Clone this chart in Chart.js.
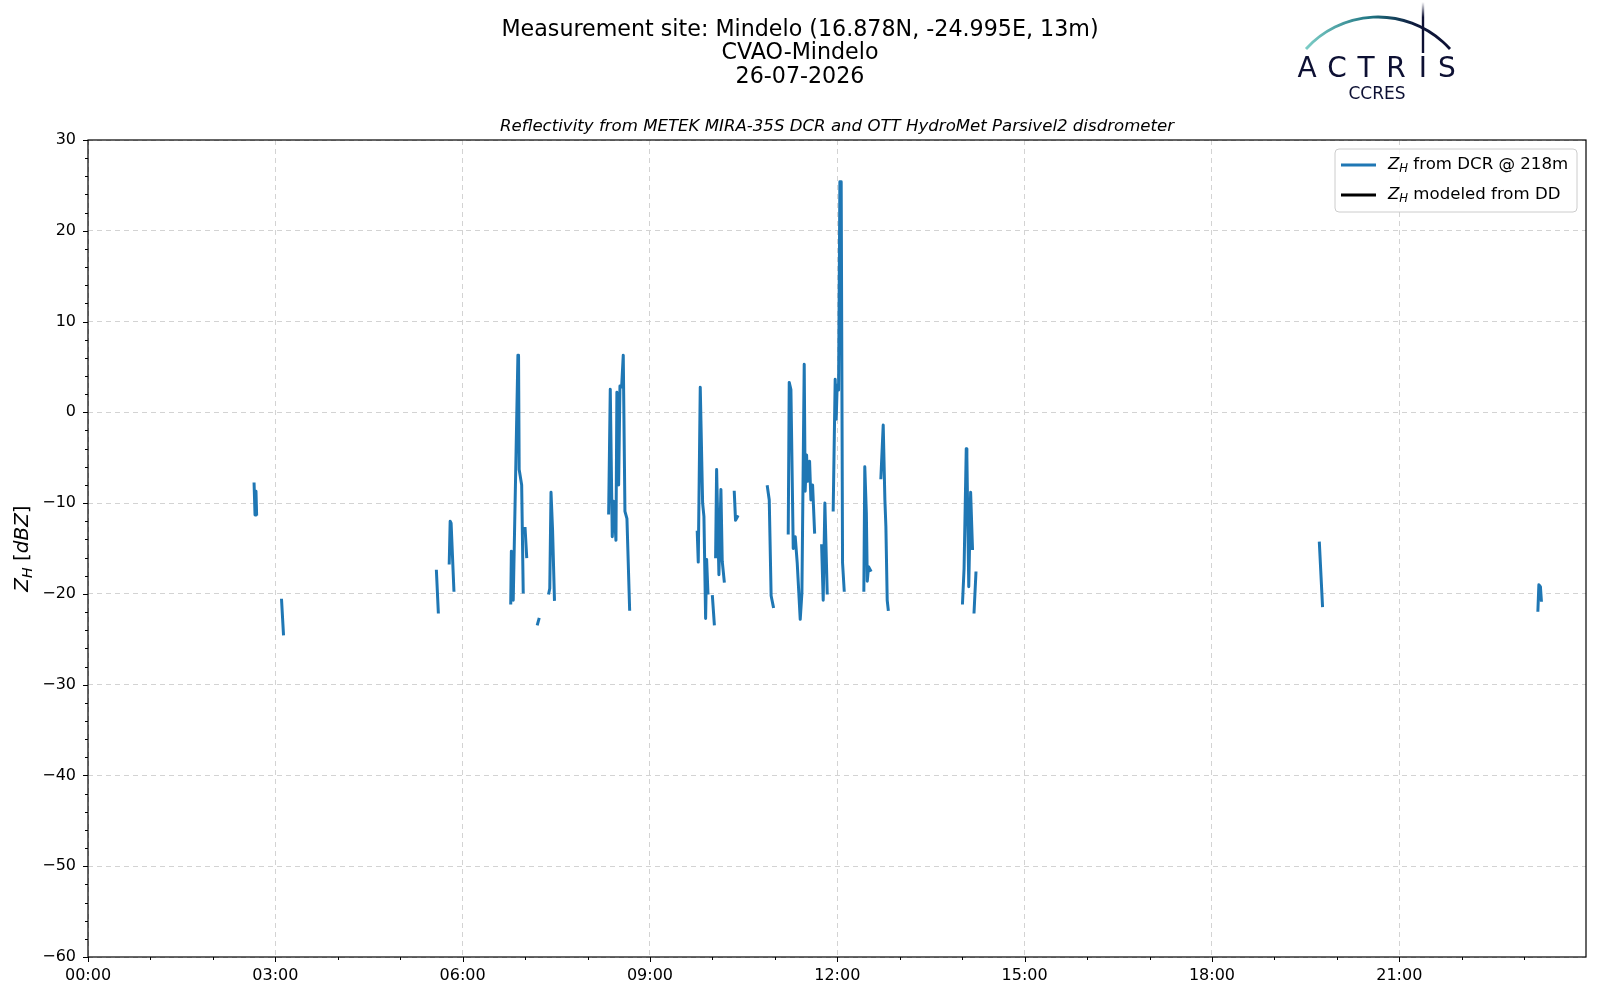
<!DOCTYPE html>
<html>
<head>
<meta charset="utf-8">
<script src="https://cdn.jsdelivr.net/npm/chart.js@4.4.1/dist/chart.umd.min.js"></script>
<style>
  html, body { margin: 0; padding: 0; background: #fff; }
  #wrap { position: relative; width: 1600px; height: 1000px; }
</style>
</head>
<body>
<div id="wrap"><canvas id="myChart"></canvas></div>
<script>
// time of day in hours, null in zh marks a gap in the radar record
const timeHours = [
  2.66, 2.675, 2.69, 2.70, 2.70,
  3.10, 3.13, 3.13,
  5.58, 5.61, 5.61,
  5.785, 5.80, 5.815, 5.86, 5.86,
  6.77, 6.78, 6.795, 6.81, 6.885, 6.895, 6.905, 6.945, 6.97, 6.97,
  7.00, 7.025, 7.025,
  7.20, 7.22, 7.22,
  7.38, 7.395, 7.415, 7.44, 7.47, 7.47,
  8.338, 8.364, 8.396, 8.418, 8.455, 8.47, 8.498, 8.519, 8.546, 8.572, 8.599, 8.631, 8.674, 8.674,
  9.757, 9.773, 9.805, 9.843, 9.864, 9.891, 9.907, 9.928, 9.928,
  10.00, 10.03, 10.03,
  10.051, 10.067, 10.104, 10.136, 10.157, 10.189, 10.189,
  10.35, 10.37, 10.40, 10.40,
  10.88, 10.91, 10.94, 10.975, 10.975,
  11.214, 11.23, 11.257, 11.294, 11.326, 11.358, 11.406, 11.433, 11.47, 11.485, 11.508, 11.524, 11.556, 11.577, 11.604, 11.636, 11.636,
  11.749, 11.774, 11.801, 11.838, 11.838,
  11.934, 11.966, 11.982, 11.998, 12.02, 12.041, 12.062, 12.084, 12.11, 12.11,
  12.425, 12.44, 12.465, 12.48, 12.50, 12.53, 12.53,
  12.698, 12.735, 12.762, 12.778, 12.799, 12.815, 12.815,
  14.005, 14.03, 14.065, 14.075, 14.105, 14.135, 14.165, 14.165,
  14.19, 14.22, 14.22,
  19.72, 19.77, 19.77,
  23.22, 23.235, 23.26, 23.275
];
const zhDcr = [
  -7.9, -11.3, -8.7, -11.2, null,
  -20.7, -24.4, null,
  -17.5, -22.0, null,
  -16.6, -12.0, -12.2, -19.6, null,
  -21.0, -15.3, -15.5, -20.7, 6.3, 6.3, -6.3, -8.0, -19.8, null,
  -12.8, -15.9, null,
  -23.3, -22.8, null,
  -19.9, -19.4, -8.8, -13.0, -20.6, null,
  -11.1, 2.55, -13.7, -9.8, -14.1, 2.2, -8.0, 2.9, 2.8, 6.3, -10.9, -11.7, -21.7, null,
  -13.2, -16.5, 2.76, -10.0, -11.5, -22.7, -16.2, -19.9, null,
  -20.3, -23.3, null,
  -15.9, -6.3, -17.9, -8.5, -16.4, -18.6, null,
  -8.8, -11.9, -11.5, null,
  -8.2, -9.65, -20.2, -21.4, null,
  -13.3, 3.3, 2.5, -15.0, -13.7, -16.6, -22.8, -19.9, 5.3, -8.7, -4.7, -7.6, -5.4, -9.65, -8.0, -13.2, null,
  -14.7, -20.7, -10.0, -19.9, null,
  -10.75, 3.65, -0.75, 3.0, 2.45, 25.4, 25.4, -16.6, -19.6, null,
  -19.6, -6.0, -11.1, -18.6, -17.0, -17.4, null,
  -7.2, -1.4, -9.65, -12.6, -20.7, -21.7, null,
  -21.0, -17.2, -4.0, -4.9, -19.2, -8.8, -15.0, null,
  -22.0, -17.7, null,
  -14.4, -21.3, null,
  -21.8, -19.0, -19.2, -20.7
];
const zhDisdrometer = [];   // no modeled values on this day

const titleLines = ["Measurement site: Mindelo (16.878N, -24.995E, 13m)", "CVAO-Mindelo", "26-07-2026"];
const subTitle = "Reflectivity from METEK MIRA-35S DCR and OTT HydroMet Parsivel2 disdrometer";
const legendTexts = [" from DCR @ 218m", " modeled from DD"];
const seriesColors = ["#1f77b4", "#000000"];

const FONT = "'DejaVu Sans', sans-serif";

function pad2(n){ return (n < 10 ? "0" : "") + n; }

// draw text made of pieces: {t, it, sub}
function richWidth(ctx, parts, size){
    let w = 0;
    parts.forEach(p => {
        const s = p.sub ? size * 0.7 : size;
        ctx.font = (p.it ? "italic " : "") + s + "px " + FONT;
        w += ctx.measureText(p.t).width;
    });
    return w;
}
function drawRich(ctx, parts, x, y, size){
    parts.forEach(p => {
        const s = p.sub ? size * 0.7 : size;
        ctx.font = (p.it ? "italic " : "") + s + "px " + FONT;
        ctx.fillText(p.t, x, p.sub ? y + size * 0.25 : y);
        x += ctx.measureText(p.t).width;
    });
}

const decorations = {
    id: "decorations",
    afterDraw(chart){
        const ctx = chart.ctx;
        const a = chart.chartArea;
        const xs = chart.scales.x, ys = chart.scales.y;
        ctx.save();

        // frame
        ctx.strokeStyle = "#000";
        ctx.lineWidth = 1.2;
        ctx.strokeRect(a.left, a.top, a.right - a.left, a.bottom - a.top);

        // tick marks
        ctx.lineWidth = 1;
        ctx.beginPath();
        for (let v = -60; v <= 30; v += 2){
            const py = Math.round(ys.getPixelForValue(v)) + 0.5;
            const len = v % 10 === 0 ? 5 : 3;
            ctx.moveTo(a.left, py); ctx.lineTo(a.left - len, py);
        }
        for (let h = 0; h <= 23; h++){
            const px = Math.round(xs.getPixelForValue(h)) + 0.5;
            const len = h % 3 === 0 ? 5 : 3;
            ctx.moveTo(px, a.bottom); ctx.lineTo(px, a.bottom + len);
        }
        ctx.stroke();

        // titles
        ctx.fillStyle = "#000";
        ctx.textAlign = "center";
        ctx.textBaseline = "middle";
        ctx.font = "22.2px " + FONT;
        titleLines.forEach((t, i) => ctx.fillText(t, 800, 30 + i * 23.5));
        ctx.font = "italic 16.6px " + FONT;
        ctx.fillText(subTitle, (a.left + a.right) / 2, 127);

        // y axis label
        ctx.save();
        ctx.translate(23, (a.top + a.bottom) / 2);
        ctx.rotate(-Math.PI / 2);
        ctx.textAlign = "left";
        const yl = [{t:"Z", it:true}, {t:"H", it:true, sub:true}, {t:" ["}, {t:"dBZ", it:true}, {t:"]"}];
        drawRich(ctx, yl, -richWidth(ctx, yl, 20) / 2, 0, 20);
        ctx.restore();

        // legend
        const lx = 1335, ly = 149, lw = 242, lh = 63;
        ctx.beginPath();
        ctx.roundRect(lx, ly, lw, lh, 4);
        ctx.fillStyle = "rgba(255,255,255,0.8)";
        ctx.fill();
        ctx.strokeStyle = "#cccccc";
        ctx.lineWidth = 1;
        ctx.stroke();
        chart.data.datasets.forEach((ds, i) => {
            const yy = 165 + i * 30;
            ctx.strokeStyle = ds.borderColor;
            ctx.lineWidth = 2.8;
            ctx.beginPath(); ctx.moveTo(1341, yy); ctx.lineTo(1376, yy); ctx.stroke();
            ctx.fillStyle = "#000";
            ctx.textAlign = "left";
            ctx.textBaseline = "middle";
            drawRich(ctx, [{t:"Z", it:true}, {t:"H", it:true, sub:true}, {t:legendTexts[i]}], 1388, yy, 16.6);
        });

        // ACTRIS logo
        const cx = 1378, cy = 114, r = 97;
        const g = ctx.createLinearGradient(1306, 0, 1450, 0);
        g.addColorStop(0, "#7ccdc6");
        g.addColorStop(0.45, "#1f7482");
        g.addColorStop(0.75, "#0e1a3d");
        g.addColorStop(1, "#0d1033");
        ctx.strokeStyle = g;
        ctx.lineWidth = 2.8;
        ctx.beginPath();
        ctx.arc(cx, cy, r, Math.atan2(-65, -72), Math.atan2(-65, 72));
        ctx.stroke();
        const vg = ctx.createLinearGradient(0, 2, 0, 53);
        vg.addColorStop(0, "rgba(13,16,51,0)");
        vg.addColorStop(0.3, "rgba(13,16,51,1)");
        vg.addColorStop(1, "rgba(13,16,51,1)");
        ctx.strokeStyle = vg;
        ctx.lineWidth = 2.4;
        ctx.beginPath(); ctx.moveTo(1423, 2); ctx.lineTo(1423, 53); ctx.stroke();
        ctx.fillStyle = "#0d1033";
        ctx.textAlign = "center";
        ctx.textBaseline = "alphabetic";
        ctx.font = "28px " + FONT;
        const letters = ["A", "C", "T", "R", "I", "S"];
        const lxs = [1307, 1337, 1366, 1396, 1423, 1447];
        letters.forEach((c, i) => ctx.fillText(c, lxs[i], 77));
        ctx.font = "17px " + FONT;
        ctx.fillText("CCRES", 1377, 99);

        ctx.restore();
    }
};

const points = timeHours.map((t, i) => ({x: t, y: zhDcr[i]}));
const gridColor = "#d3d3d3";

new Chart(document.getElementById("myChart").getContext("2d"), {
    type: "line",
    data: {
        datasets: [
            {
                label: "ZH from DCR @ 218m",
                data: points,
                borderColor: seriesColors[0],
                backgroundColor: seriesColors[0],
                borderWidth: 3,
                borderJoinStyle: "round",
                borderCapStyle: "square",
                pointRadius: 0,
                tension: 0,
                spanGaps: false,
            },
            {
                label: "ZH modeled from DD",
                data: zhDisdrometer,
                borderColor: seriesColors[1],
                backgroundColor: seriesColors[1],
                borderWidth: 3,
                pointRadius: 0,
            },
        ],
    },
    options: {
        responsive: true,
        maintainAspectRatio: false,
        animation: false,
        layout: { padding: { top: 140, right: 14, left: 0, bottom: 0 } },
        plugins: {
            legend: { display: false },
            title: { display: false },
            tooltip: { enabled: false },
        },
        scales: {
            x: {
                type: "linear",
                min: 0,
                max: 23.99,
                afterFit: s => { s.height = 43; },
                border: { display: false, dash: [5, 4] },
                grid: {
                    drawTicks: false,
                    lineWidth: 1,
                    color: c => (c.tick && Number.isInteger(c.tick.value) && c.tick.value % 3 === 0) ? gridColor : "rgba(0,0,0,0)",
                },
                ticks: {
                    stepSize: 1,
                    includeBounds: false,
                    autoSkip: false,
                    maxRotation: 0,
                    padding: 9,
                    color: "#000",
                    font: { family: FONT, size: 16 },
                    callback: v => (Number.isInteger(v) && v % 3 === 0) ? pad2(v) + ":00" : "",
                },
            },
            y: {
                min: -60,
                max: 30,
                afterFit: s => { s.width = 88; },
                border: { display: false, dash: [5, 4] },
                grid: {
                    drawTicks: false,
                    lineWidth: 1,
                    color: c => (c.tick && c.tick.value % 10 === 0) ? gridColor : "rgba(0,0,0,0)",
                },
                ticks: {
                    stepSize: 2,
                    autoSkip: false,
                    padding: 12,
                    color: "#000",
                    font: { family: FONT, size: 16 },
                    callback: v => v % 10 === 0 ? String(v).replace("-", "\u2212") : "",
                },
            },
        },
    },
    plugins: [decorations],
});
</script>
</body>
</html>
